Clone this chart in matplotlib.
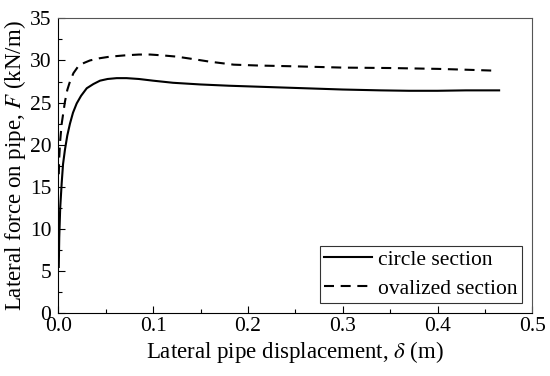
import matplotlib
matplotlib.use("Agg")
import matplotlib.pyplot as plt
from matplotlib.ticker import MultipleLocator, FormatStrFormatter

plt.rcParams['font.family'] = ['Liberation Serif', 'DejaVu Serif']
plt.rcParams['mathtext.fontset'] = 'stix'

circle_x = [0.0005, 0.001, 0.002, 0.0036, 0.005, 0.007, 0.0095, 0.0123, 0.0155, 0.0194, 0.024,
            0.030, 0.037, 0.044, 0.052, 0.0616, 0.072, 0.085, 0.10, 0.121, 0.15, 0.18, 0.22,
            0.26, 0.30, 0.34, 0.37, 0.40, 0.43, 0.465]
circle_y = [5.5, 9.0, 12.5, 15.5, 17.7, 19.4, 21.1, 22.5, 23.8, 24.9, 25.8,
            26.7, 27.2, 27.6, 27.8, 27.9, 27.9, 27.8, 27.6, 27.35, 27.15, 27.0, 26.85,
            26.7, 26.55, 26.45, 26.4, 26.4, 26.45, 26.45]

oval_x = [0.0005, 0.001, 0.002, 0.0036, 0.007, 0.0095, 0.0123, 0.016, 0.021, 0.027, 0.0334,
          0.043, 0.0545, 0.07, 0.085, 0.097, 0.11, 0.125, 0.14, 0.16, 0.185, 0.21, 0.25,
          0.30, 0.35, 0.40, 0.43, 0.457]
oval_y = [16.5, 18.5, 20.5, 22.5, 25.1, 26.5, 27.5, 28.5, 29.3, 29.7, 30.0,
          30.25, 30.45, 30.6, 30.7, 30.7, 30.6, 30.45, 30.2, 29.85, 29.5, 29.4, 29.3,
          29.15, 29.1, 29.0, 28.9, 28.8]

fig = plt.figure(figsize=(5.5, 3.76), dpi=100)
ax = fig.add_axes([58.3/550, 1-313.3/376, (532.3-58.3)/550, (313.3-18.3)/376])

ax.plot(circle_x, circle_y, color='black', lw=1.5, ls='-', label='circle section')
ax.plot(oval_x, oval_y, color='black', lw=1.5, ls=(0, (4.8, 3.2)), label='ovalized section')

ax.set_xlim(0, 0.5)
ax.set_ylim(0, 35)
ax.xaxis.set_major_locator(MultipleLocator(0.1))
ax.xaxis.set_minor_locator(MultipleLocator(0.05))
ax.yaxis.set_major_locator(MultipleLocator(5))
ax.yaxis.set_minor_locator(MultipleLocator(2.5))
ax.xaxis.set_major_formatter(FormatStrFormatter('%.1f'))
ax.tick_params(which='both', direction='in', top=False, right=False, labelsize=15.5)
ax.tick_params(axis='x', pad=3)
ax.tick_params(axis='y', pad=5)
ax.tick_params(which='major', length=5, width=0.8)
ax.tick_params(which='minor', length=3, width=0.8)
for s in ax.spines.values():
    s.set_linewidth(0.8)
ax.spines['top'].set_color('#555555')
ax.spines['right'].set_color('#555555')

ax.set_xlabel(r'Lateral pipe displacement, $\delta$ (m)', fontsize=16.5, labelpad=2)
ax.set_ylabel(r'Lateral force on pipe, $F$ (kN/m)', fontsize=16.5, labelpad=1)

leg = ax.legend(loc='lower right', fontsize=15.5, frameon=True, fancybox=False, edgecolor='black',
                handlelength=2.2, handletextpad=0.3, borderpad=0.2, labelspacing=0.4,
                borderaxespad=0.48)
leg.get_frame().set_linewidth(0.8)

fig.savefig('out.png', dpi=100)
